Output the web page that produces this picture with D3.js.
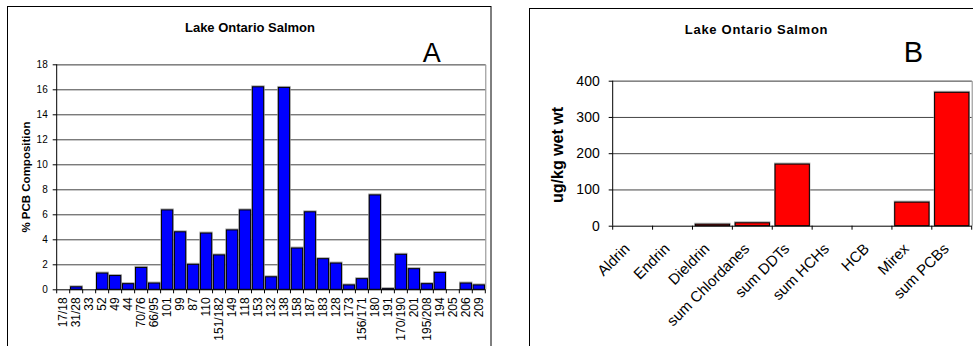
<!DOCTYPE html>
<html>
<head>
<meta charset="utf-8">
<script src="https://cdn.jsdelivr.net/npm/d3@7"></script>
<style>
  body { margin: 0; background: #fff; }
  svg { display: block; font-family: Arial, "Liberation Sans", sans-serif; }
</style>
</head>
<body>
<div id="chart"></div>
<script>
// --- data ---
const congeners = ["17/18", "31/28", "33", "52", "49", "44", "70/76", "66/95", "101", "99", "87", "110",
  "151/182", "149", "118", "153", "132", "138", "158", "187", "183", "128", "173", "156/171", "180",
  "191", "170/190", "201", "195/208", "194", "205", "206", "209"];
const pcbPercent = [0, 0.2, 0, 1.3, 1.1, 0.45, 1.75, 0.5, 6.35, 4.6, 2.0, 4.5,
  2.75, 4.75, 6.35, 16.2, 1.0, 16.15, 3.3, 6.2, 2.45, 2.1, 0.35, 0.85, 7.55,
  0.05, 2.8, 1.65, 0.45, 1.35, 0, 0.5, 0.35];
const pcbTicks = [0, 2, 4, 6, 8, 10, 12, 14, 16, 18];

const compounds = ["Aldrin", "Endrin", "Dieldrin", "sum Chlordanes", "sum DDTs", "sum HCHs", "HCB", "Mirex", "sum PCBs"];
const concentration = [0, 0, 4, 8, 170, 0, 0, 65, 368];
const concTicks = [0, 100, 200, 300, 400];

const W = 973, H = 346;
const svg = d3.select("#chart").append("svg").attr("width", W).attr("height", H);
svg.append("rect").attr("width", W).attr("height", H).attr("fill", "#fff");

// panel frames
svg.append("rect").attr("x", 7.5).attr("y", 6.5).attr("width", 483.5).attr("height", 400)
  .attr("fill", "none").attr("stroke", "#000");
svg.append("rect").attr("x", 529.5).attr("y", 8.5).attr("width", 500).attr("height", 400)
  .attr("fill", "none").attr("stroke", "#000");

function drawPanel(opt) {
  const g = svg.append("g");
  const x = d3.scaleBand().domain(opt.cats).range([opt.left, opt.right])
    .paddingInner(opt.pad).paddingOuter(opt.pad / 2);
  const y = d3.scaleLinear().domain([0, opt.max]).range([opt.bottom, opt.top]);

  // gridlines
  g.append("g").attr("transform", `translate(${opt.left},0)`)
    .call(d3.axisLeft(y).tickValues(opt.ticks.slice(1)).tickSize(-(opt.right - opt.left)).tickFormat(""))
    .call(s => s.select(".domain").remove())
    .call(s => s.selectAll("line").attr("stroke", "#444"));

  // plot frame top/right in gray
  g.append("path")
    .attr("d", `M${opt.left},${y(opt.max) + 0.5}H${opt.right + 0.5}V${opt.bottom}`)
    .attr("fill", "none").attr("stroke", "#888");

  // bars with a soft gray shadow
  g.append("g").selectAll("rect").data(opt.values).join("rect")
    .attr("x", (d, i) => x(opt.cats[i]) - 1)
    .attr("y", d => y(d) - 1.5)
    .attr("width", x.bandwidth() + 2)
    .attr("height", d => opt.bottom - y(d) + 1.5)
    .attr("fill", d => d > 0 ? "#aaa" : "none");
  g.append("g").selectAll("rect").data(opt.values).join("rect")
    .attr("x", (d, i) => x(opt.cats[i]))
    .attr("y", d => y(d))
    .attr("width", x.bandwidth())
    .attr("height", d => opt.bottom - y(d))
    .attr("fill", opt.color).attr("stroke", "#000").attr("stroke-width", 1)
    .attr("display", d => d > 0 ? null : "none");

  // y axis
  const ya = g.append("g").attr("transform", `translate(${opt.left},0)`)
    .call(d3.axisLeft(y).tickValues(opt.ticks).tickSize(4).tickPadding(opt.yPad).tickFormat(d3.format("d")));
  ya.select(".domain").attr("stroke", "#000").attr("d", `M0,${opt.bottom}V${y(opt.max)}`);
  ya.selectAll("text").attr("font-size", opt.yFont).attr("fill", "#000")
    .attr("font-family", "Arial, 'Liberation Sans', sans-serif");

  // x axis line and boundary ticks
  const step = x.step();
  g.append("line").attr("x1", opt.left).attr("x2", opt.right)
    .attr("y1", opt.bottom + 0.5).attr("y2", opt.bottom + 0.5).attr("stroke", "#000");
  g.append("g").selectAll("line").data(d3.range(opt.cats.length + 1)).join("line")
    .attr("x1", i => opt.left + i * step).attr("x2", i => opt.left + i * step)
    .attr("y1", opt.bottom).attr("y2", opt.bottom + 4).attr("stroke", "#000");

  // x labels, rotated
  g.append("g").selectAll("text").data(opt.cats).join("text")
    .attr("transform", d => `translate(${x(d) + x.bandwidth() / 2 + opt.lx},${opt.bottom + opt.ly}) rotate(${opt.angle})`)
    .attr("text-anchor", "end")
    .attr("dy", opt.dy)
    .style("font-size", opt.xFont + "px")
    .text(d => d);

  // title, letter, y label
  g.append("text").attr("x", opt.titleX).attr("y", opt.titleY).attr("text-anchor", "middle")
    .attr("font-size", 13).attr("font-weight", "bold").attr("letter-spacing", opt.titleSpacing)
    .text("Lake Ontario Salmon");
  g.append("text").attr("x", opt.letterX).attr("y", 61.7).attr("text-anchor", "middle")
    .attr("font-size", opt.letterSize).text(opt.letter);
  g.append("text").attr("transform", `translate(${opt.ylX},${opt.ylY}) rotate(-90)`)
    .attr("text-anchor", "middle").attr("font-size", opt.ylFont).attr("font-weight", "bold")
    .text(opt.yLabel);
}

drawPanel({
  cats: congeners, values: pcbPercent, ticks: pcbTicks, max: 18,
  left: 56.7, right: 485.3, top: 64.3, bottom: 289.3, pad: 0.13, color: "#0000ff",
  yFont: 10, yPad: 5,
  xFont: 12, angle: -90, lx: 0, ly: 8, dy: "0.35em",
  titleX: 250, titleY: 31.5, titleSpacing: 0,
  letter: "A", letterX: 431.7, letterSize: 27,
  yLabel: "% PCB Composition", ylFont: 11.5, ylX: 29.5, ylY: 177
});

drawPanel({
  cats: compounds, values: concentration, ticks: concTicks, max: 400,
  left: 612.7, right: 971.7, top: 80.7, bottom: 225.7, pad: 0.14, color: "#ff0000",
  yFont: 14, yPad: 9,
  xFont: 15, angle: -45, lx: -2, ly: 24, dy: "0",
  titleX: 756.5, titleY: 34, titleSpacing: 0.7,
  letter: "B", letterX: 913.5, letterSize: 29,
  yLabel: "ug/kg wet wt", ylFont: 16, ylX: 562.7, ylY: 155
});
</script>
</body>
</html>
